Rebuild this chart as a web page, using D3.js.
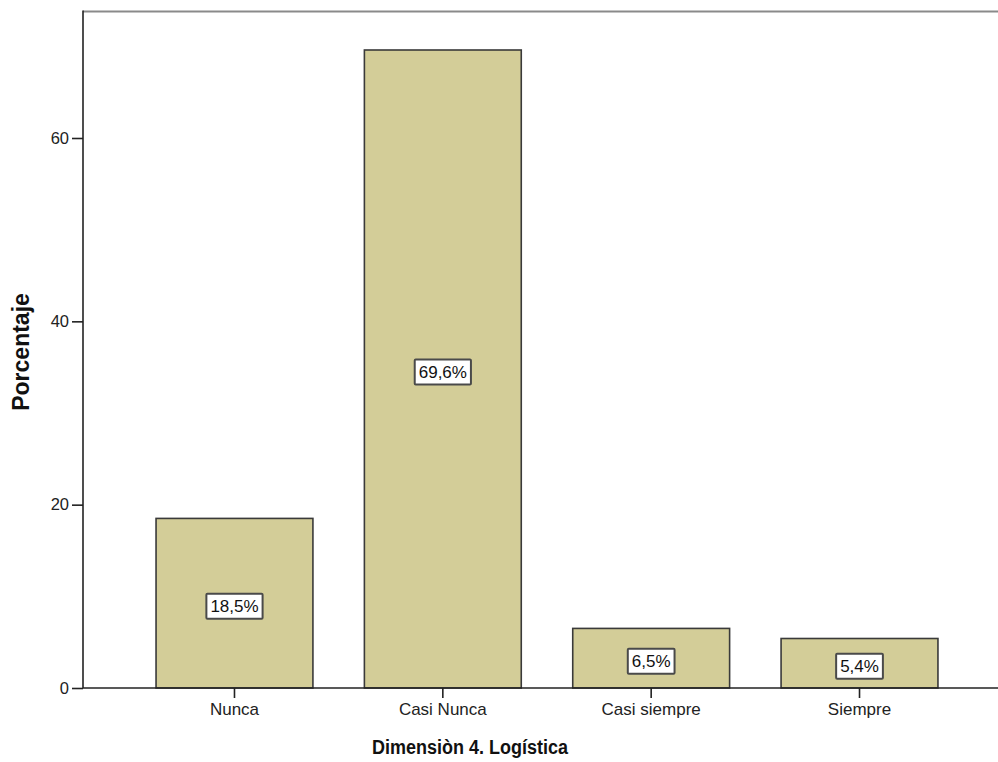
<!DOCTYPE html>
<html>
<head>
<meta charset="utf-8">
<script src="https://cdn.jsdelivr.net/npm/d3@7"></script>
<style>
  html, body { margin: 0; padding: 0; background: #fff; }
  svg { display: block; font-family: "Liberation Sans", Arial, sans-serif; }
</style>
</head>
<body>
<svg id="chart" width="998" height="762"></svg>
<script>
// Categories and percentages
const categories = ["Nunca", "Casi Nunca", "Casi siempre", "Siempre"];
const percentages = [18.5, 69.6, 6.5, 5.4];
const barLabels = ["18,5%", "69,6%", "6,5%", "5,4%"];
const yTicks = [0, 20, 40, 60];
const xTitle = "Dimensiòn 4. Logística";
const yTitle = "Porcentaje";

const svg = d3.select("#chart");
const frame = { left: 83, right: 998, top: 11.5, bottom: 688 };
const FONT = "'Liberation Sans', Arial, sans-serif";

const x = d3.scaleBand()
  .domain(categories)
  .range([130, 964])
  .paddingInner(0.247)
  .paddingOuter(0.125);

const y = d3.scaleLinear()
  .domain([0, 60])
  .range([frame.bottom, frame.bottom - 550]);

// top border of the plot frame
svg.append("line")
  .attr("x1", frame.left).attr("x2", frame.right)
  .attr("y1", frame.top).attr("y2", frame.top)
  .attr("stroke", "#8a8a8a").attr("stroke-width", 2.2);

// bars
svg.append("g").selectAll("rect")
  .data(categories)
  .join("rect")
  .attr("x", d => x(d))
  .attr("y", (d, i) => y(percentages[i]))
  .attr("width", x.bandwidth())
  .attr("height", (d, i) => y(0) - y(percentages[i]))
  .attr("fill", "#d3cd98")
  .attr("stroke", "#3a3a3a")
  .attr("stroke-width", 1.6);

// value labels in white boxes
const lab = svg.append("g").selectAll("g")
  .data(categories)
  .join("g")
  .attr("transform", (d, i) => `translate(${x(d) + x.bandwidth() / 2},${(y(percentages[i]) + y(0)) / 2 + 3})`);

lab.append("text")
  .attr("text-anchor", "middle")
  .attr("dy", "0.36em")
  .attr("font-size", 17)
  .attr("fill", "#111")
  .text((d, i) => barLabels[i])
  .each(function () {
    const b = this.getBBox();
    d3.select(this.parentNode).insert("rect", "text")
      .attr("x", b.x - 4).attr("y", -12.5)
      .attr("width", b.width + 8).attr("height", 25)
      .attr("rx", 1)
      .attr("fill", "#fff")
      .attr("stroke", "#4a4a4a")
      .attr("stroke-width", 2);
  });

// y axis
const yAxis = svg.append("g")
  .attr("transform", `translate(${frame.left},0)`)
  .call(d3.axisLeft(y).tickValues(yTicks).tickSize(11).tickPadding(3));
yAxis.select(".domain").attr("d", `M0,${frame.top - 1}V${frame.bottom}`).attr("stroke", "#222").attr("stroke-width", 1.6);
yAxis.selectAll(".tick line").attr("stroke", "#222").attr("stroke-width", 1.6);
yAxis.selectAll(".tick text").attr("font-size", 16.5).attr("fill", "#222").attr("font-family", FONT);

// x axis
const xAxis = svg.append("g")
  .attr("transform", `translate(0,${frame.bottom})`)
  .call(d3.axisBottom(x).tickSize(10).tickPadding(5));
xAxis.select(".domain").attr("d", `M${frame.left},0H${frame.right}`).attr("stroke", "#222").attr("stroke-width", 1.6);
xAxis.selectAll(".tick line").attr("stroke", "#222").attr("stroke-width", 1.6);
xAxis.selectAll(".tick text").attr("font-size", 17).attr("fill", "#222").attr("font-family", FONT);

// axis titles
svg.append("text")
  .attr("x", 470).attr("y", 754)
  .attr("text-anchor", "middle")
  .attr("font-size", 18).attr("font-weight", "bold").attr("fill", "#111")
  .attr("transform", "translate(0,-113) scale(1,1.15)")
  .text(xTitle);

svg.append("text")
  .attr("transform", "translate(29,352) rotate(-90)")
  .attr("text-anchor", "middle")
  .attr("font-size", 23).attr("font-weight", "bold").attr("fill", "#111")
  .text(yTitle);
</script>
</body>
</html>
